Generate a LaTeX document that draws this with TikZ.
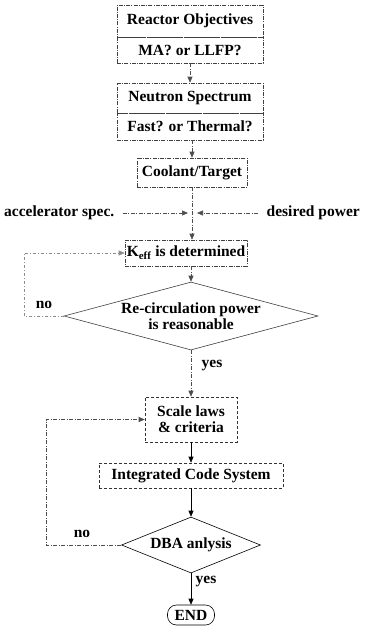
\documentclass[tikz,border=0pt]{standalone}
\usepackage{fontspec}
\setmainfont{Liberation Serif}
\usetikzlibrary{arrows.meta,shapes.geometric}
\begin{document}
\begin{tikzpicture}[x=1pt,y=-1pt,
  every node/.style={font=\fontsize{15.5}{17}\selectfont\bfseries, inner sep=0pt},
  box/.style={draw=black!75, line width=0.6pt,
    dash pattern=on 4pt off 1.2pt on 1pt off 1.2pt},
  sbox/.style={draw=black!80, line width=0.6pt, densely dashed},
  dia/.style={diamond, draw=black!75, line width=0.6pt},
  endbox/.style={draw, line width=0.6pt, rounded corners=9pt},
  arr/.style={line width=0.6pt, -{Triangle[length=6pt,width=5pt]}},
  faint/.style={draw=black!45, dash pattern=on 3pt off 2pt on 1pt off 2pt},
  dd/.style={draw=black!70, dash pattern=on 4pt off 1.5pt on 1pt off 1.5pt}
]
\useasboundingbox (0,0) rectangle (365,632);

% reactor goals and spectrum choice
\node[box, minimum width=146, minimum height=32] (obj) at (190,21) {Reactor Objectives};
\node[box, minimum width=146, minimum height=26] (ma) at (190,50) {MA? or LLFP?};
\node[box, minimum width=146, minimum height=30] (ns) at (190,98) {Neutron Spectrum};
\node[box, minimum width=146, minimum height=27] (ft) at (190,126.5) {Fast? or Thermal?};
\node[box, minimum width=110, minimum height=29] (ct) at (192,172.5) {Coolant/Target};

% inputs from the accelerator and the required power
\node[anchor=west] (acc) at (4,213) {accelerator spec.};
\node[anchor=east] (dp) at (360,213) {desired power};
\coordinate (accend) at (188,213);
\coordinate (dpend) at (197,213);

\node[box, minimum width=122, minimum height=26] (keff) at (186,253) {K\textsubscript{eff} is determined};

% first decision
\node[dia, minimum width=254, minimum height=68] (rc) at (191,316) {};
\node[align=center] (rct) at (rc) {Re-circulation power\\[-1pt]is reasonable};
\node (no1) at (44,305) {no};
\node (yes1) at (212,366) {yes};
\coordinate (c1) at (24,316);

% design loop
\node[sbox, minimum width=92, minimum height=45, align=center] (sl) at (191,419.5) {Scale laws\\[-1pt]\& criteria};
\node[sbox, minimum width=184, minimum height=25] (ic) at (191,475.5) {Integrated Code System};
\node[dia, draw=black, minimum width=139, minimum height=56] (dba) at (191,545) {};
\node (dbat) at (dba) {DBA anlysis};
\node (no2) at (82,534) {no};
\node (yes2) at (206,582) {yes};
\node[endbox, minimum width=47, minimum height=20] (end) at (191,615) {END};
\coordinate (c2) at (46,545);

% connectors
\draw[arr, dd] (ma.south) -- (ns.north);
\draw[arr, dd] (ft.south -| ct.north) -- (ct.north);
\draw[arr, dd] (ct.south) -- (ct.south |- keff.north);
\draw[arr, dd] ([xshift=8pt]acc.east) -- (accend);
\draw[arr, dd] ([xshift=-8pt]dp.west) -- (dpend);
\draw[arr, dd] (keff.south -| rc.north) -- (rc.north);
\draw[arr, faint] (rc.west) -- (c1) |- (keff.west);
\draw[arr, dd] (rc.south) -- (sl.north);
\draw[arr] (sl.south) -- (ic.north);
\draw[arr] (ic.south) -- (dba.north);
\draw[arr] (dba.south) -- (end.north);
\draw[arr, dd] (dba.west) -- (c2) |- (sl.west);
\end{tikzpicture}
\end{document}
